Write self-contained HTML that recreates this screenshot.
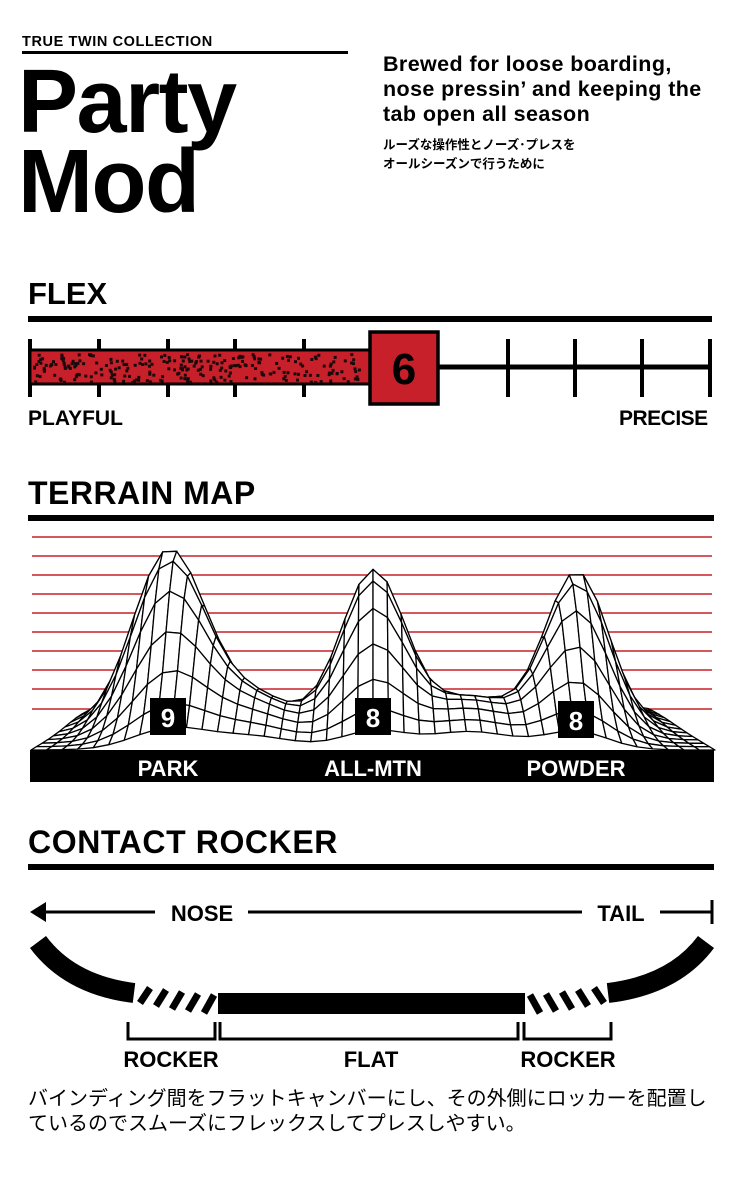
<!DOCTYPE html>
<html><head><meta charset="utf-8">
<style>
html,body{margin:0;padding:0;background:#fff;}
body{width:740px;height:1200px;position:relative;overflow:hidden;font-family:"Liberation Sans","Noto Sans CJK JP",sans-serif;color:#000;}
.a{position:absolute;white-space:nowrap;font-weight:bold;}
</style></head><body>
<div class="a" style="left:22px;top:34px;font-size:14.5px;letter-spacing:0.6px">TRUE TWIN COLLECTION</div>
<div style="position:absolute;left:22px;top:51px;width:326px;height:3px;background:#000"></div>
<div class="a" style="left:18px;top:62px;font-size:90px;line-height:80px;letter-spacing:-1.5px">Party<br>Mod</div>
<div class="a" style="left:383px;top:52px;font-size:21.5px;line-height:25px;letter-spacing:0.4px">Brewed for loose boarding,<br>nose pressin’ and keeping the<br>tab open all season</div>
<div class="a" style="left:383px;top:136px;font-size:12.5px;line-height:19px">ルーズな操作性とノーズ･プレスを<br>オールシーズンで行うために</div>

<div class="a" style="left:28px;top:276px;font-size:31px;letter-spacing:0px">FLEX</div>
<div class="a" style="left:28px;top:407px;font-size:21px;letter-spacing:0px">PLAYFUL</div>
<div class="a" style="left:619px;top:407px;font-size:21px;letter-spacing:-0.5px">PRECISE</div>
<div class="a" style="left:28px;top:475px;font-size:32px;letter-spacing:0.5px">TERRAIN MAP</div>
<div class="a" style="left:28px;top:824px;font-size:32px;letter-spacing:0.6px">CONTACT ROCKER</div>

<svg width="740" height="1200" style="position:absolute;left:0;top:0" id="s">
<rect x="28" y="316" width="684" height="6"/>
<rect x="28" y="515" width="686" height="6"/>
<rect x="28" y="864" width="686" height="6"/>
<line x1="30" y1="367" x2="710" y2="367" stroke="#000" stroke-width="5"/>
<g stroke="#000" stroke-width="4">
<line x1="30" y1="339" x2="30" y2="397"/><line x1="99" y1="339" x2="99" y2="397"/><line x1="168" y1="339" x2="168" y2="397"/><line x1="235" y1="339" x2="235" y2="397"/><line x1="304" y1="339" x2="304" y2="397"/>
<line x1="508" y1="339" x2="508" y2="397"/><line x1="575" y1="339" x2="575" y2="397"/><line x1="642" y1="339" x2="642" y2="397"/><line x1="710" y1="339" x2="710" y2="397"/>
</g>
<rect x="30" y="350" width="342" height="34" fill="#c8202a" stroke="#000" stroke-width="3"/>
<g id="spk" fill="#1a0a0a"></g>
<rect x="370" y="332" width="68" height="72" fill="#c8202a" stroke="#000" stroke-width="3.5"/>
<text x="404" y="384" font-size="44" font-weight="bold" text-anchor="middle" font-family="Liberation Sans">6</text>
<g stroke="#c8202a" stroke-width="1.6">
<line x1="32" y1="537" x2="712" y2="537"/><line x1="32" y1="556" x2="712" y2="556"/><line x1="32" y1="575" x2="712" y2="575"/><line x1="32" y1="594" x2="712" y2="594"/><line x1="32" y1="613" x2="712" y2="613"/><line x1="32" y1="632" x2="712" y2="632"/><line x1="32" y1="651" x2="712" y2="651"/><line x1="32" y1="670" x2="712" y2="670"/><line x1="32" y1="689" x2="712" y2="689"/><line x1="32" y1="709" x2="712" y2="709"/>
</g>
<g id="mesh" fill="#fff" stroke="#000" stroke-width="1.3" stroke-linejoin="round"></g>
<rect x="30" y="750" width="684" height="32"/>
<g font-family="Liberation Sans" font-weight="bold" font-size="22" fill="#fff" text-anchor="middle">
<text x="168" y="776">PARK</text><text x="373" y="776">ALL-MTN</text><text x="576" y="776">POWDER</text>
</g>
<g font-family="Liberation Sans" font-weight="bold" font-size="26" text-anchor="middle">
<rect x="150" y="698" width="36" height="37"/><text x="168" y="727" fill="#fff">9</text>
<rect x="355" y="698" width="36" height="37"/><text x="373" y="727" fill="#fff">8</text>
<rect x="558" y="701" width="36" height="37"/><text x="576" y="730" fill="#fff">8</text>
</g>
<polygon points="30,912 46,902 46,922"/>
<g stroke="#000" stroke-width="3">
<line x1="44" y1="912" x2="155" y2="912"/><line x1="248" y1="912" x2="582" y2="912"/><line x1="660" y1="912" x2="712" y2="912"/><line x1="712" y1="900" x2="712" y2="924"/>
</g>
<g font-family="Liberation Sans" font-weight="bold" font-size="22" text-anchor="middle">
<text x="202" y="921">NOSE</text><text x="621" y="921">TAIL</text>
<text x="171" y="1067">ROCKER</text><text x="371" y="1067">FLAT</text><text x="568" y="1067">ROCKER</text>
</g>
<path d="M38,942 Q70,985 134,993" fill="none" stroke="#000" stroke-width="20"/>
<path d="M706,942 Q674,985 608,993" fill="none" stroke="#000" stroke-width="20"/>
<rect x="218" y="993" width="307" height="21"/>
<g stroke="#000" stroke-width="7">
<line x1="140" y1="1003" x2="150" y2="988"/><line x1="156" y1="1006" x2="166" y2="990"/><line x1="172" y1="1009" x2="182" y2="992"/><line x1="188" y1="1011" x2="198" y2="994"/><line x1="204" y1="1013" x2="214" y2="995"/>
<line x1="530" y1="995" x2="540" y2="1013"/><line x1="546" y1="994" x2="556" y2="1011"/><line x1="562" y1="992" x2="572" y2="1009"/><line x1="578" y1="990" x2="588" y2="1006"/><line x1="594" y1="988" x2="604" y2="1003"/>
</g>
<g fill="none" stroke="#000" stroke-width="3">
<polyline points="128,1022 128,1039 215,1039 215,1022"/>
<polyline points="220,1022 220,1039 518,1039 518,1022"/>
<polyline points="524,1022 524,1039 611,1039 611,1022"/>
</g>
</svg>
<div style="position:absolute;left:28px;top:1087px;font-size:20px;line-height:25px;font-family:'Liberation Sans','Noto Sans CJK JP',sans-serif;white-space:nowrap">バインディング間をフラットキャンバーにし、その外側にロッカーを配置し<br>ているのでスムーズにフレックスしてプレスしやすい。</div>
<script>
(function(){
var sp=document.getElementById("spk"),s="";
var seed=7;function r(){seed=(seed*9301+49297)%233280;return seed/233280;}
for(var i=0;i<260;i++){s+='<rect x="'+(33+r()*334).toFixed(1)+'" y="'+(353+r()*28).toFixed(1)+'" width="3" height="3"/>';}
sp.innerHTML=s;
var peaks=[[168,175,36,0.5],[373,157,32,0.5],[577,157,32,0.5],[250,40,45,0.35],[470,40,45,0.3]];
function P(u,v){
 var y0=750-40*v,xl=31+67*v,xr=715-67*v,x=xl+u*(xr-xl),h=0;
 for(var k=0;k<peaks.length;k++){var p=peaks[k];var dx=(x-p[0])/p[2],dv=(v-p[3])/0.24;h+=p[1]*Math.exp(-0.5*dx*dx-0.5*dv*dv);}
 return [x,y0-h];
}
var NU=44,NV=12,out="";
for(var j=NV-1;j>=0;j--){
 for(var i=0;i<NU;i++){
  var a=P(i/NU,(j+1)/NV),b=P((i+1)/NU,(j+1)/NV),c=P((i+1)/NU,j/NV),d=P(i/NU,j/NV);
  out+='<polygon points="'+[a,b,c,d].map(function(q){return q[0].toFixed(1)+","+q[1].toFixed(1)}).join(" ")+'"/>';
 }
}
document.getElementById("mesh").innerHTML=out;
})();
</script>
</body></html>
